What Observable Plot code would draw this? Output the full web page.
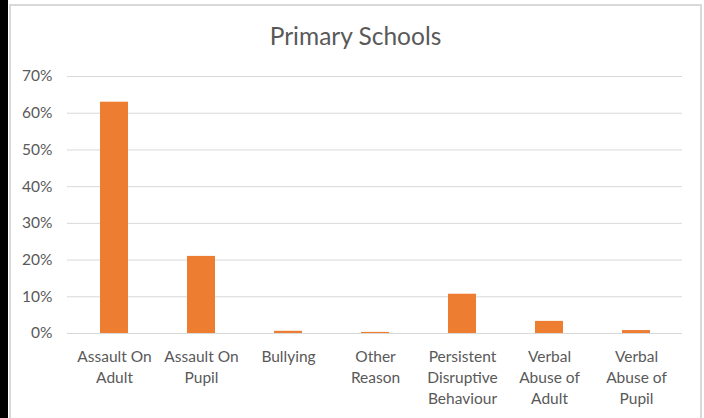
<!DOCTYPE html>
<html>
<head>
<meta charset="utf-8">
<script src="https://cdn.jsdelivr.net/npm/d3@7"></script>
<script src="https://cdn.jsdelivr.net/npm/@observablehq/plot@0.6"></script>
<style>
  html, body { margin: 0; padding: 0; background: #fff; overflow: hidden; }
  body { width: 704px; height: 418px; position: relative; font-family: Lato, "Open Sans", sans-serif; }
  #strip { position: absolute; left: 0; top: 0; width: 8px; height: 418px; background: #000; }
  #box { position: absolute; left: 9px; top: 4px; width: 689px; height: 430px; border: 2px solid #d9d9d9; border-bottom: none; background: #fff; }
  #title { position: absolute; left: 0; top: 18px; width: 689px; text-align: center; font-size: 24.5px; color: #595959; line-height: 1; }
  #chart { position: absolute; left: 0; top: 54px; }
</style>
</head>
<body>
<div id="strip"></div>
<div id="box">
  <div id="title">Primary Schools</div>
  <div id="chart"></div>
</div>
<script>
const categories = ["Assault On Adult", "Assault On Pupil", "Bullying", "Other Reason", "Persistent Disruptive Behaviour", "Verbal Abuse of Adult", "Verbal Abuse of Pupil"];
const tickLabels = ["Assault On\nAdult", "Assault On\nPupil", "Bullying", "Other\nReason", "Persistent\nDisruptive\nBehaviour", "Verbal\nAbuse of\nAdult", "Verbal\nAbuse of\nPupil"];
const values = [0.63, 0.21, 0.006, 0.003, 0.107, 0.033, 0.008];
const yTicks = [0, 0.1, 0.2, 0.3, 0.4, 0.5, 0.6, 0.7];

const data = categories.map((c, i) => ({category: c, value: values[i]}));
const labelOf = new Map(categories.map((c, i) => [c, tickLabels[i]]));

const chart = Plot.plot({
  width: 689,
  height: 364,
  marginLeft: 56,
  marginRight: 18,
  marginTop: 16,
  marginBottom: 91,
  style: {fontFamily: "Lato, 'Open Sans', sans-serif", fontSize: "15.5px", color: "#595959", background: "transparent"},
  x: {domain: categories, paddingInner: 0.68, paddingOuter: 0.34, label: null},
  y: {domain: [0, 0.7], label: null},
  marks: [
    Plot.gridY(yTicks, {stroke: "#d9d9d9", strokeOpacity: 1, strokeWidth: 1}),
    Plot.barY(data, {x: "category", y: "value", fill: "#ED7D31"}),
    Plot.axisY(yTicks, {tickSize: 0, tickPadding: 15, tickFormat: d3.format(".0%"), fill: "#595959", fontSize: 15.5, label: null}),
    Plot.axisX({tickSize: 0, tickPadding: 13, tickFormat: d => labelOf.get(d), fill: "#595959", fontSize: 15.5, lineHeight: 1.37, label: null})
  ]
});
document.getElementById("chart").appendChild(chart);
</script>
</body>
</html>
